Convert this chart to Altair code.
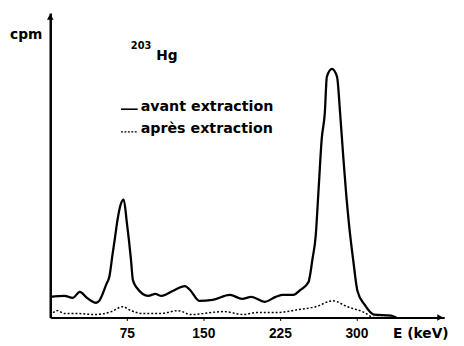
import altair as alt
import pandas as pd

# ---- data (energy in keV, counts in arbitrary cpm units)
avant_e = [0, 14, 22, 29, 36, 45, 48, 55, 58, 61, 63, 66, 69, 72, 75, 79, 81, 85, 96,
           103, 109, 120, 132, 137, 146, 159, 176, 188, 197, 210, 221, 228, 238, 245,
           253, 257, 260, 263, 266, 269, 271, 276, 281, 284, 287, 290, 293, 297, 301,
           308, 317, 334, 339]
avant_c = [21, 22, 20, 26, 20, 15, 17, 34, 42, 64, 78, 100, 115, 120, 97, 60, 38, 30, 22,
           24, 22, 27, 32, 28, 17, 18, 23, 19, 21, 16, 21, 23, 23, 28,
           36, 60, 82, 132, 182, 208, 245, 253, 245, 208, 165, 125, 92, 57, 27,
           13, 3, 2, 0]
apres_e = [0, 7, 14, 27, 43, 60, 71, 79, 91, 108, 125, 138, 170, 189, 202, 221, 243,
           260, 277, 291, 308, 317, 335]
apres_c = [2, 7, 4, 4, 3, 6, 11, 7, 4, 4, 7, 3, 6, 3, 5, 5, 8,
           11, 17, 11, 5, 0, 0]
tick_values = [75, 150, 225, 300]
legend_labels = ["avant extraction", "après extraction"]
isotope_mass = "203"
isotope_symbol = "Hg"
x_title = "E (keV)"
y_title = "cpm"

X_MAX = 386
Y_MAX = 310
FONT = "DejaVu Sans"

df_avant = pd.DataFrame({"E": avant_e, "cpm": avant_c})
df_apres = pd.DataFrame({"E": apres_e, "cpm": apres_c})

xs = alt.Scale(domain=[0, X_MAX], nice=False, zero=False)
ys = alt.Scale(domain=[0, Y_MAX], nice=False)

x_axis = alt.Axis(
    values=tick_values, title=None, grid=False, domainColor="black",
    domainWidth=2, tickColor="black", tickSize=3, tickWidth=1,
    labelFont="Liberation Sans", labelFontWeight="bold", labelFontSize=14,
    labelColor="black", labelPadding=6)
y_axis = alt.Axis(title=None, labels=False, ticks=False, grid=False,
                  domainColor="black", domainWidth=2.5)

X = alt.X("E:Q", scale=xs, axis=x_axis)
Y = alt.Y("cpm:Q", scale=ys, axis=y_axis)

solid = alt.Chart(df_avant).mark_line(
    color="black", strokeWidth=2.3, interpolate="monotone"
).encode(x=X, y=Y)

dotted = alt.Chart(df_apres).mark_line(
    color="black", strokeWidth=1.5, strokeDash=[2, 2], interpolate="monotone"
).encode(x=X, y=Y)

arrow_up = alt.Chart(pd.DataFrame({"E": [0], "cpm": [Y_MAX - 4]})).mark_point(
    shape="triangle-up", filled=True, color="black", size=45, opacity=1
).encode(x=X, y=Y)

arrow_right = alt.Chart(pd.DataFrame({"E": [X_MAX - 4], "cpm": [0]})).mark_point(
    shape="triangle-right", filled=True, color="black", size=45, opacity=1
).encode(x=X, y=Y)

one = pd.DataFrame({"k": [0]})

def label(text, x, y, size=14, align="left", baseline="middle"):
    return alt.Chart(one).mark_text(
        text=text, font=FONT, fontWeight="bold", fontSize=size, color="black",
        align=align, baseline=baseline
    ).encode(x=alt.value(x), y=alt.value(y))

leg_solid = alt.Chart(one).mark_rule(color="black", strokeWidth=1.6).encode(
    x=alt.value(72), x2=alt.value(89), y=alt.value(98))
leg_dot = alt.Chart(one).mark_rule(color="black", strokeWidth=1.3, strokeDash=[2, 1.5]).encode(
    x=alt.value(72), x2=alt.value(89), y=alt.value(121))

chart = alt.layer(
    solid, dotted, arrow_up, arrow_right,
    leg_solid, leg_dot,
    label(legend_labels[0], 92, 96, size=14.5),
    label(legend_labels[1], 92, 118, size=14.5),
    label(isotope_mass, 82, 34, size=10),
    label(isotope_symbol, 108, 48, size=14, baseline="alphabetic"),
    label(y_title, -8, 23, size=14, align="right"),
    label(x_title, 349, 327, size=14),
).properties(
    width=401, height=310,
    padding={"left": 43, "top": 2, "right": 12, "bottom": 26},
    autosize=alt.AutoSizeParams(type="none"),
    background="white",
).configure_view(stroke=None)

chart.save("out.html", embed_options={"renderer": "svg", "actions": False})
